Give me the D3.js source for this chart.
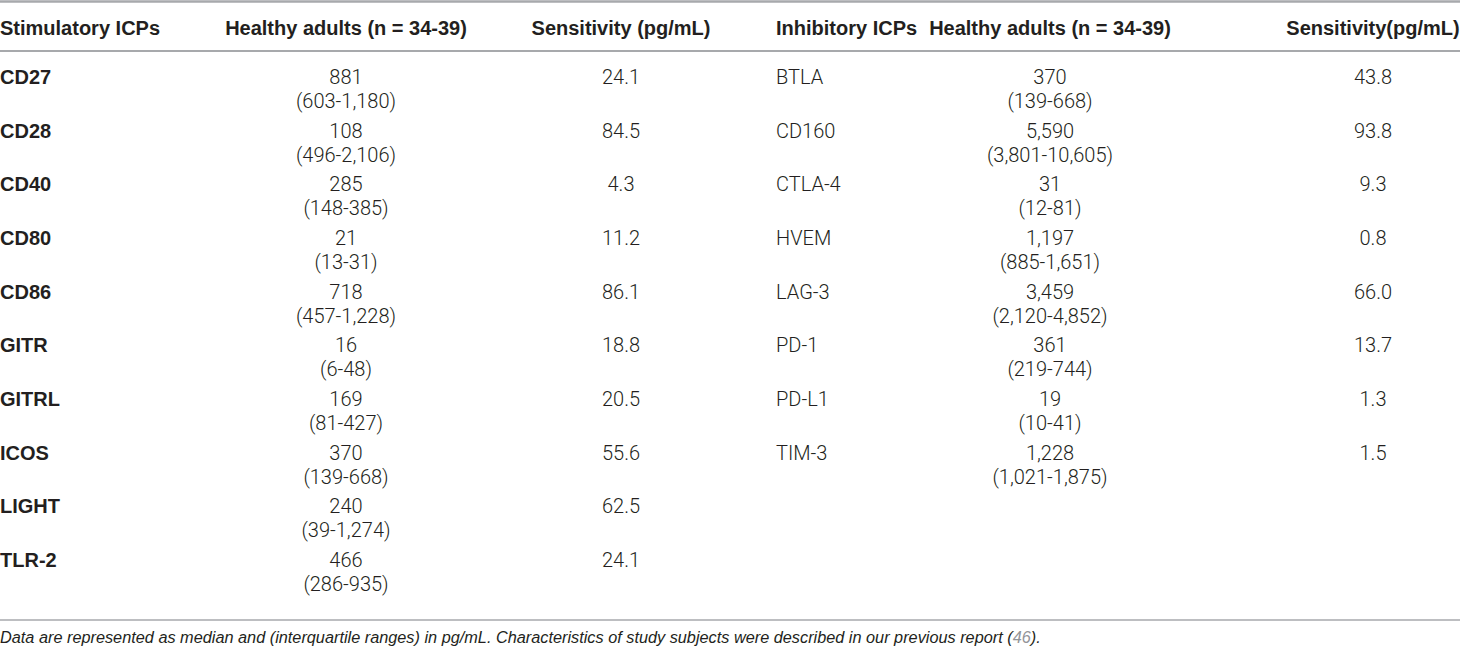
<!DOCTYPE html>
<html>
<head>
<meta charset="utf-8">
<script src="https://cdn.jsdelivr.net/npm/d3@7"></script>
<style>
  body { margin: 0; background: #fff; }
  svg text { font-family: "Liberation Sans", Arial, sans-serif; fill: #231f20; }
  .hdr { font-weight: bold; font-size: 20px; }
  .cell { font-family: Roboto, "Liberation Sans", sans-serif !important; font-weight: 300; font-size: 20px; }
  .cell.bold { font-family: "Liberation Sans", Arial, sans-serif !important; font-weight: bold; font-size: 20px; }
  .note { font-style: italic; font-size: 16.3px; }
</style>
</head>
<body>
<div id="chart"></div>
<script>
var width = 1460
var height = 653

// table contents
var headers = ["Stimulatory ICPs", "Healthy adults (n = 34-39)", "Sensitivity (pg/mL)",
               "Inhibitory ICPs", "Healthy adults (n = 34-39)", "Sensitivity(pg/mL)"]

var stimNames = ["CD27", "CD28", "CD40", "CD80", "CD86", "GITR", "GITRL", "ICOS", "LIGHT", "TLR-2"]
var stimMedian = ["881", "108", "285", "21", "718", "16", "169", "370", "240", "466"]
var stimRange = ["(603-1,180)", "(496-2,106)", "(148-385)", "(13-31)", "(457-1,228)",
                 "(6-48)", "(81-427)", "(139-668)", "(39-1,274)", "(286-935)"]
var stimSens = ["24.1", "84.5", "4.3", "11.2", "86.1", "18.8", "20.5", "55.6", "62.5", "24.1"]

var inhNames = ["BTLA", "CD160", "CTLA-4", "HVEM", "LAG-3", "PD-1", "PD-L1", "TIM-3"]
var inhMedian = ["370", "5,590", "31", "1,197", "3,459", "361", "19", "1,228"]
var inhRange = ["(139-668)", "(3,801-10,605)", "(12-81)", "(885-1,651)", "(2,120-4,852)",
                "(219-744)", "(10-41)", "(1,021-1,875)"]
var inhSens = ["43.8", "93.8", "9.3", "0.8", "66.0", "13.7", "1.3", "1.5"]

var noteText = "Data are represented as median and (interquartile ranges) in pg/mL. Characteristics of study subjects were described in our previous report ("
var noteRef = "46"

var svg = d3.select("#chart").append("svg")
    .attr("width", width)
    .attr("height", height)

// column x positions and anchors
var cols = [
    {x: 0, anchor: "start"},
    {x: 346, anchor: "middle"},
    {x: 621, anchor: "middle"},
    {x: 776, anchor: "start"},
    {x: 1050, anchor: "middle"},
    {x: 1373, anchor: "middle"}
]

// row positions
var yRow = d3.scaleLinear().domain([0, 9]).range([84, 567])
var lineGap = 24

// rules
var rules = [{y: 1.5, w: 2.5}, {y: 51, w: 1.8}, {y: 620, w: 1.5}]
svg.selectAll("line.rule")
    .data(rules)
    .enter().append("line")
    .attr("class", "rule")
    .attr("x1", 0).attr("x2", width)
    .attr("y1", d => d.y).attr("y2", d => d.y)
    .attr("stroke", "#a7a9ac")
    .attr("stroke-width", d => d.w)

// header
svg.selectAll("text.hdr")
    .data(headers)
    .enter().append("text")
    .attr("class", "hdr")
    .attr("x", (d, i) => cols[i].x)
    .attr("y", 35)
    .attr("text-anchor", (d, i) => cols[i].anchor)
    .text(d => d)

function drawBlock(names, medians, ranges, sens, c0, boldNames) {
    var g = svg.append("g")
    g.selectAll("text.name")
        .data(names)
        .enter().append("text")
        .attr("class", boldNames ? "cell bold" : "cell")
        .attr("x", cols[c0].x)
        .attr("y", (d, i) => yRow(i))
        .text(d => d)
    g.selectAll("text.med")
        .data(medians)
        .enter().append("text")
        .attr("class", "cell")
        .attr("x", cols[c0 + 1].x)
        .attr("y", (d, i) => yRow(i))
        .attr("text-anchor", "middle")
        .text(d => d)
    g.selectAll("text.rng")
        .data(ranges)
        .enter().append("text")
        .attr("class", "cell")
        .attr("x", cols[c0 + 1].x)
        .attr("y", (d, i) => yRow(i) + lineGap)
        .attr("text-anchor", "middle")
        .text(d => d)
    g.selectAll("text.sens")
        .data(sens)
        .enter().append("text")
        .attr("class", "cell")
        .attr("x", cols[c0 + 2].x)
        .attr("y", (d, i) => yRow(i))
        .attr("text-anchor", "middle")
        .text(d => d)
}

drawBlock(stimNames, stimMedian, stimRange, stimSens, 0, true)
drawBlock(inhNames, inhMedian, inhRange, inhSens, 3, false)

// footnote
var note = svg.append("text")
    .attr("class", "note")
    .attr("x", 0)
    .attr("y", 643)
note.append("tspan").text(noteText)
note.append("tspan").style("fill", "#939598").text(noteRef)
note.append("tspan").text(").")
</script>
</body>
</html>
